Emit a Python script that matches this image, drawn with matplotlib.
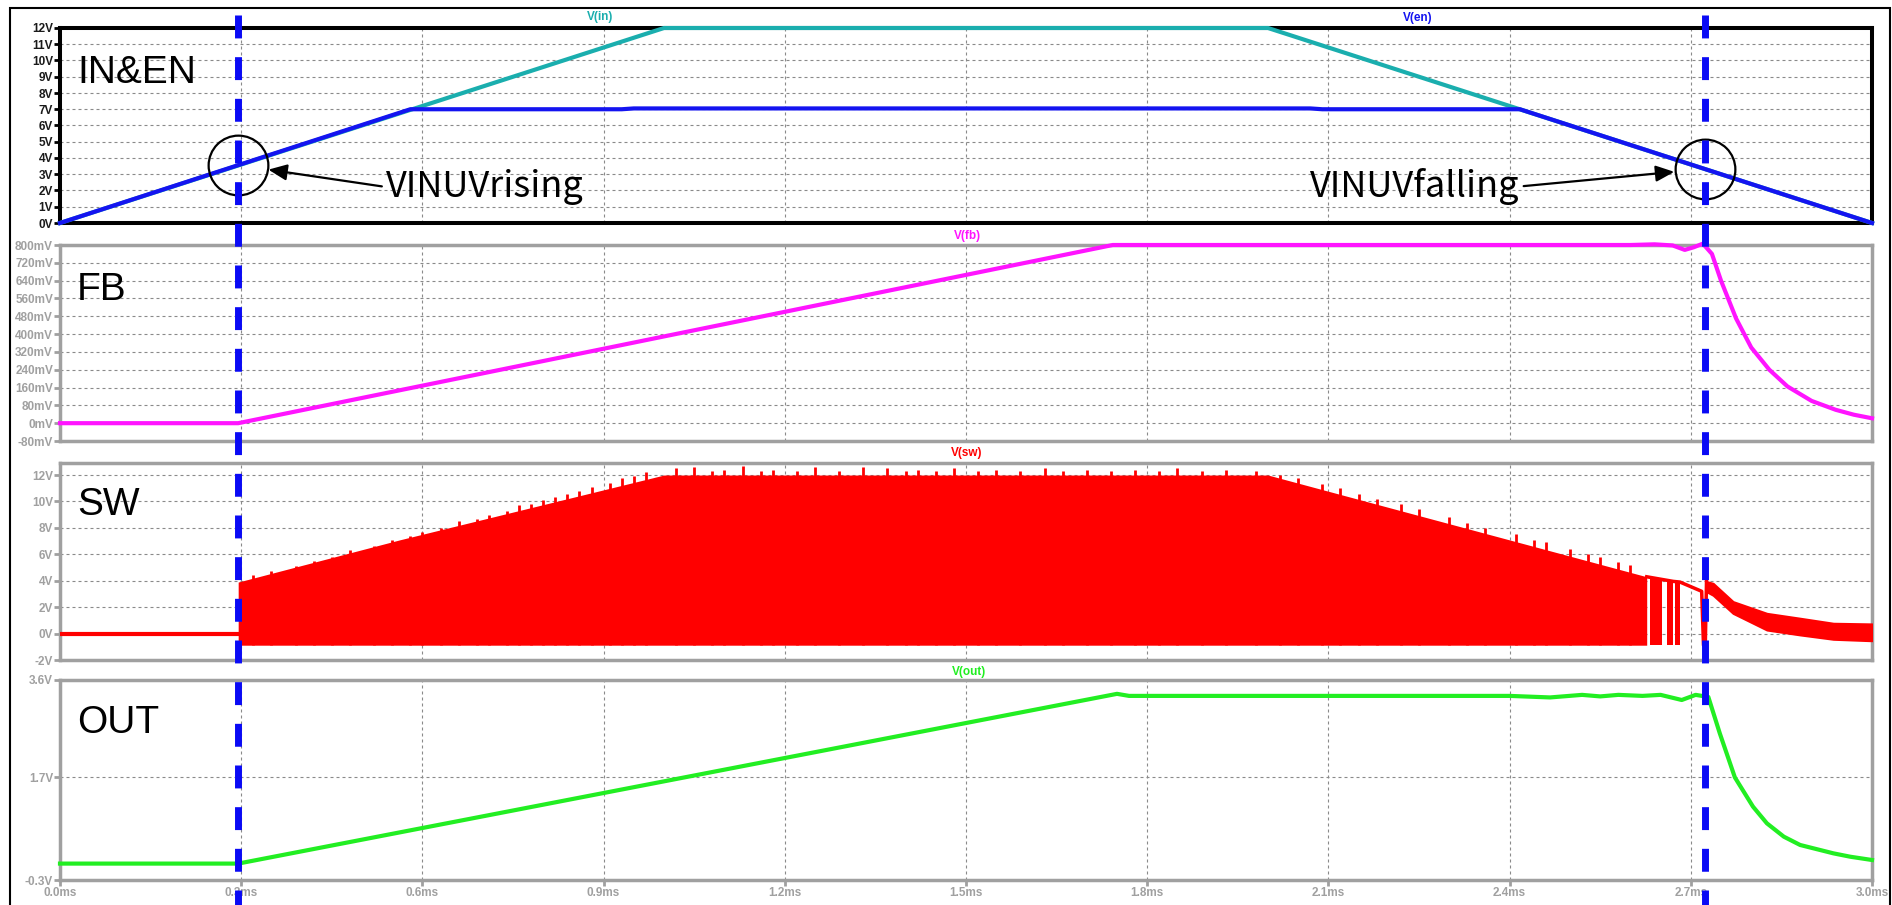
import numpy as np
import matplotlib
matplotlib.use("Agg")
import matplotlib.pyplot as plt
from matplotlib.lines import Line2D
from matplotlib.patches import Rectangle
from matplotlib.transforms import blended_transform_factory

plt.rcParams['font.family'] = ['Liberation Sans', 'DejaVu Sans']

# ---------------- waveform data (time in ms) ----------------
time_ticks = [0.0, 0.3, 0.6, 0.9, 1.2, 1.5, 1.8, 2.1, 2.4, 2.7, 3.0]
time_labels = ['0.0ms', '0.3ms', '0.6ms', '0.9ms', '1.2ms', '1.5ms',
               '1.8ms', '2.1ms', '2.4ms', '2.7ms', '3.0ms']

# UVLO thresholds crossed by V(en)
uv_rise_t = 0.295
uv_fall_t = 2.723

vin_t = [0.0, 1.0, 2.0, 3.0]
vin_v = [0.0, 12.0, 12.0, 0.0]

ven_t = [0.0, 0.58, 0.93, 0.95, 2.07, 2.09, 2.417, 3.0]
ven_v = [0.0, 7.0, 7.0, 7.05, 7.05, 7.0, 7.0, 0.0]

fb_t = [0.0, 0.295, 1.743, 2.60, 2.64, 2.67, 2.69, 2.705, 2.72, 2.735,
        2.75, 2.775, 2.80, 2.83, 2.86, 2.90, 2.94, 2.97, 3.0]
fb_mv = [0, 0, 800, 800, 803, 798, 778, 790, 806, 760,
         640, 470, 340, 240, 165, 100, 60, 38, 22]

sw_idle_t = [0.0, 0.295]
sw_idle_v = [0.0, 0.0]
sw_env_t = [0.295, 0.563, 1.0, 2.0, 2.627]
sw_env_top = [3.9, 7.1, 12.0, 12.0, 4.3]
sw_floor = -0.88
sw_burst_start = [2.632, 2.660, 2.674]
sw_burst_end = [2.652, 2.671, 2.682]
sw_burst_top = [4.1, 3.95, 3.9]
sw_skip_t = [2.627, 2.652, 2.671, 2.682, 2.718, 2.721, 2.724, 2.726]
sw_skip_v = [4.3, 4.1, 3.95, 3.9, 3.2, -0.88, -0.88, 3.95]
sw_tail_t = [2.725, 2.737, 2.770, 2.826, 2.881, 2.936, 3.0]
sw_tail_top = [3.95, 3.8, 2.42, 1.53, 1.16, 0.78, 0.73]
sw_tail_bot = [3.2, 2.9, 1.53, 0.27, -0.10, -0.43, -0.54]
sw_spike_t = [0.32, 0.35, 0.39, 0.42, 0.45, 0.48, 0.52, 0.55, 0.58, 0.60,
              0.63, 0.66, 0.69, 0.71, 0.74, 0.76, 0.78, 0.80, 0.82, 0.84,
              0.86, 0.88, 0.91, 0.93, 0.95, 0.97, 1.02, 1.05, 1.08, 1.10,
              1.13, 1.16, 1.18, 1.22, 1.25, 1.29, 1.33, 1.37, 1.40, 1.42,
              1.45, 1.48, 1.52, 1.55, 1.59, 1.63, 1.66, 1.70, 1.74, 1.78,
              1.82, 1.85, 1.89, 1.93, 1.98, 2.02, 2.05, 2.09, 2.12, 2.15,
              2.18, 2.22, 2.25, 2.30, 2.33, 2.36, 2.41, 2.44, 2.46, 2.50,
              2.53, 2.55, 2.58, 2.60]
sw_spike_v = [4.4, 4.7, 5.1, 5.5, 5.8, 6.3, 6.6, 7.1, 7.4, 7.7,
              8.0, 8.5, 8.7, 9.0, 9.3, 9.7, 9.8, 10.1, 10.3, 10.6,
              10.8, 11.1, 11.4, 11.8, 11.9, 12.2, 12.5, 12.6, 12.3, 12.4,
              12.7, 12.3, 12.4, 12.3, 12.6, 12.3, 12.6, 12.5, 12.3, 12.4,
              12.3, 12.5, 12.3, 12.4, 12.3, 12.5, 12.3, 12.4, 12.3, 12.4,
              12.3, 12.5, 12.3, 12.4, 12.3, 12.0, 11.8, 11.3, 11.0, 10.6,
              10.2, 9.8, 9.4, 8.8, 8.4, 8.0, 7.5, 7.1, 6.9, 6.4,
              6.0, 5.8, 5.4, 5.2]

out_t = [0.0, 0.295, 1.75, 1.77, 2.40, 2.467, 2.52, 2.55, 2.58, 2.62, 2.65,
         2.685, 2.708, 2.729, 2.748, 2.773, 2.803, 2.826, 2.854, 2.881,
         2.909, 2.936, 2.964, 3.0]
out_v = [0.02, 0.02, 3.33, 3.29, 3.29, 3.26, 3.31, 3.28, 3.31, 3.29, 3.31,
         3.21, 3.31, 3.27, 2.56, 1.70, 1.13, 0.805, 0.545, 0.383,
         0.30, 0.22, 0.154, 0.09]

# ---------------- styling ----------------
W, H, DPI = 1892, 905, 100
C_IN, C_EN, C_FB, C_SW, C_OUT = '#1aaeae', '#1414f0', '#ff14ff', '#ff0000', '#22ee22'
C_MARK = '#0a0af5'
GRAY = '#a0a0a0'
LW = 3.0
NOTE_FONT = ['Noto Sans CJK JP', 'DejaVu Sans']

fig = plt.figure(figsize=(W / DPI, H / DPI), dpi=DPI)
L_PX, R_PX = 60, 1872


def panel(top_px, bot_px):
    return fig.add_axes([L_PX / W, 1 - bot_px / H, (R_PX - L_PX) / W, (bot_px - top_px) / H])


def style(ax, edge, label_color, yticks, ylabels, ylim, spine_w=2.5):
    ax.set_xlim(0, 3.0)
    ax.set_ylim(*ylim)
    ax.set_xticks(time_ticks)
    ax.set_yticks(yticks)
    ax.set_yticklabels(ylabels, fontweight='bold')
    for s in ax.spines.values():
        s.set_color(edge)
        s.set_linewidth(spine_w)
    ax.tick_params(axis='y', length=4.5, width=2, color=edge, pad=0.5,
                   labelsize=8.5, labelcolor=label_color)
    ax.tick_params(axis='x', length=0, labelbottom=False)
    ax.grid(True, color='#8a8a8a', linestyle=(0, (2.7, 2.7)), linewidth=0.8)
    ax.set_axisbelow(True)


def title(ax, text, dy):
    ax.annotate(text, xy=(0, 1), xycoords='axes fraction', xytext=(17, -dy),
                textcoords='offset pixels', fontsize=28, ha='left', va='baseline')


ax1 = panel(28, 223)
ax2 = panel(245, 441)
ax3 = panel(463, 660)
ax4 = panel(680, 880)

style(ax1, 'black', '#1a1a1a', list(range(0, 13)), [f'{v}V' for v in range(0, 13)],
      (0, 12), spine_w=2.9)
fb_ticks = list(range(-80, 801, 80))
style(ax2, GRAY, GRAY, fb_ticks, [f'{v}mV' for v in fb_ticks], (-80, 800))
sw_ticks = list(range(-2, 13, 2))
style(ax3, GRAY, GRAY, sw_ticks, [f'{v}V' for v in sw_ticks], (-2, 12.91))
out_ticks = [-0.3, 1.7, 3.6]
style(ax4, GRAY, GRAY, out_ticks, [f'{v}V' for v in out_ticks], (-0.3, 3.6))
ax4.set_xticklabels(time_labels, fontweight='bold')
ax4.tick_params(axis='x', length=4, width=2, color=GRAY, pad=1,
                labelsize=8.5, labelcolor=GRAY, labelbottom=True)

# panel 1: input and enable
ax1.plot(vin_t, vin_v, color=C_IN, lw=LW, zorder=3, clip_on=False, solid_joinstyle='miter')
ax1.plot(ven_t, ven_v, color=C_EN, lw=LW, zorder=4, clip_on=False)

# panel 2: feedback
ax2.plot(fb_t, fb_mv, color=C_FB, lw=LW, zorder=3, clip_on=False)

# panel 3: switch node
ax3.plot(sw_idle_t, sw_idle_v, color=C_SW, lw=LW, zorder=3)
ax3.fill_between(sw_env_t, sw_floor, sw_env_top, color=C_SW, lw=0, zorder=3)
ax3.vlines(sw_spike_t, sw_floor, sw_spike_v, color=C_SW, lw=2.0, zorder=3)
ax3.bar(sw_burst_start, np.array(sw_burst_top) - sw_floor,
        width=np.array(sw_burst_end) - np.array(sw_burst_start),
        bottom=sw_floor, align='edge', color=C_SW, lw=0, zorder=3)
ax3.plot(sw_skip_t, sw_skip_v, color=C_SW, lw=2.5, zorder=3)
ax3.fill_between(sw_tail_t, sw_tail_bot, sw_tail_top, color=C_SW, lw=1.5,
                 edgecolor=C_SW, zorder=3)

# panel 4: output
ax4.plot(out_t, out_v, color=C_OUT, lw=LW, zorder=3, clip_on=False)

title(ax1, 'IN&EN', 55)
title(ax2, 'FB', 55)
title(ax3, 'SW', 52)
title(ax4, 'OUT', 53)

# trace names
for txt, col, x, y in [('V(in)', C_IN, 600, 17), ('V(en)', C_EN, 1418, 18),
                       ('V(fb)', C_FB, 967, 236), ('V(sw)', C_SW, 967, 453),
                       ('V(out)', C_OUT, 969, 672)]:
    fig.text(x / W, 1 - y / H, txt, color=col, fontsize=8.5, fontweight='bold',
             ha='center', va='center')

# UVLO markers on V(en)
for t_uv, label, tx, side in [(uv_rise_t, 'VINUVrising', 386, 0.0),
                              (uv_fall_t, 'VINUVfalling', 1310, 1.0)]:
    v_uv = np.interp(t_uv, ven_t, ven_v)
    ax1.plot([t_uv], [v_uv], 'o', ms=43, mfc='none', mec='black', mew=1.6,
             zorder=6, clip_on=False)
    ax1.annotate(label, xy=(t_uv, v_uv), xycoords='data',
                 xytext=(tx, H - 197), textcoords='figure pixels',
                 fontsize=26, family=NOTE_FONT, ha='left', va='baseline', zorder=7,
                 arrowprops=dict(arrowstyle='-|>,head_length=0.8,head_width=0.35',
                                 mutation_scale=14, color='black', lw=1.6,
                                 relpos=(side, 0.5), shrinkA=1, shrinkB=22))

# dashed UVLO time markers across all panels
trans = blended_transform_factory(ax4.transData, fig.transFigure)
for t_uv in (uv_rise_t, uv_fall_t):
    fig.add_artist(Line2D([t_uv, t_uv], [1 - 15 / H, -0.02], transform=trans,
                          color=C_MARK, lw=5.0, linestyle=(0, (3.3, 2.7)), zorder=10))

# outer frame
fig.add_artist(Rectangle((10 / W, -0.05), 1880 / W, 1.05 - 8 / H,
                         transform=fig.transFigure, fill=False, ec='black', lw=1.5))

fig.savefig('out.png', dpi=DPI)
